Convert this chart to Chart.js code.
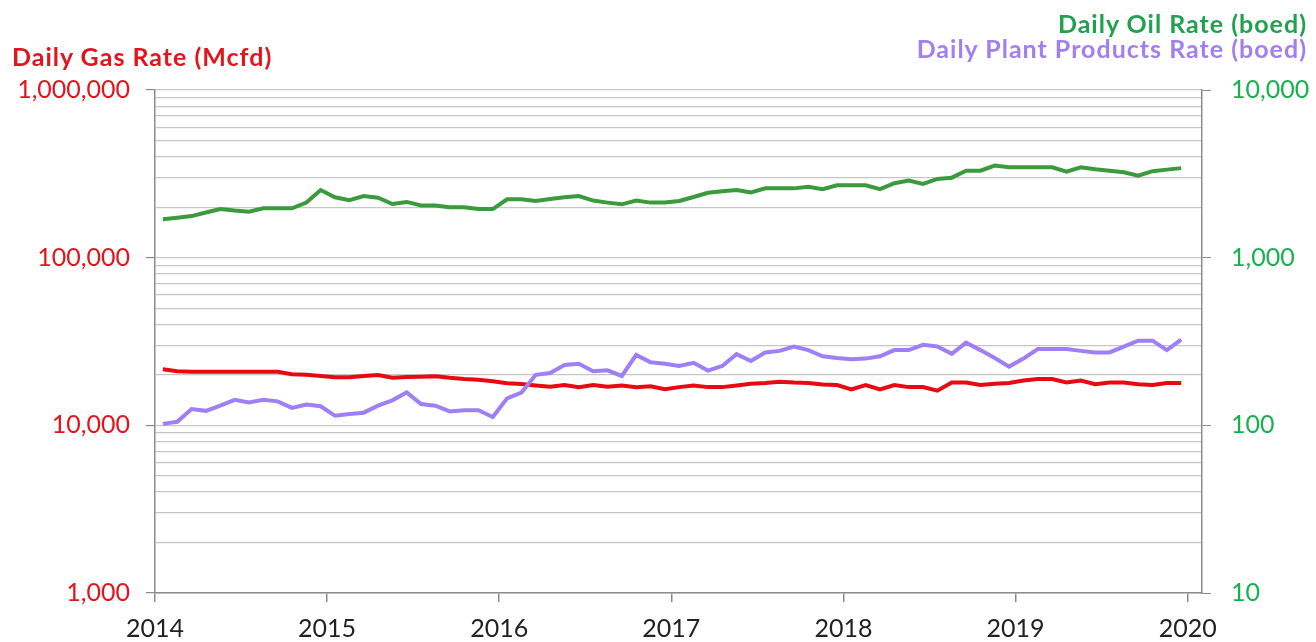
<!DOCTYPE html>
<html><head><meta charset="utf-8">
<script src="https://cdn.jsdelivr.net/npm/chart.js@4.4.1/dist/chart.umd.min.js"></script>
<style>
html,body{margin:0;padding:0;background:#fff;}
#wrap{position:relative;width:1316px;height:642px;overflow:hidden;}
canvas{position:absolute;left:0;top:0;}
.t{position:absolute;font-family:Lato,sans-serif;font-weight:bold;font-size:25px;letter-spacing:1px;line-height:28px;white-space:nowrap;}
</style></head><body>
<div id="wrap">
<canvas id="c" width="1316" height="642"></canvas>
<div class="t" style="left:12px;top:42px;color:#e3141c">Daily Gas Rate (Mcfd)</div>
<div class="t" style="right:9px;top:9px;color:#21a04f">Daily Oil Rate (boed)</div>
<div class="t" style="right:9px;top:34px;color:#a27ff0">Daily Plant Products Rate (boed)</div>
</div>
<script>
const months = [
'2014-01','2014-02','2014-03','2014-04','2014-05','2014-06','2014-07','2014-08','2014-09','2014-10','2014-11','2014-12',
'2015-01','2015-02','2015-03','2015-04','2015-05','2015-06','2015-07','2015-08','2015-09','2015-10','2015-11','2015-12',
'2016-01','2016-02','2016-03','2016-04','2016-05','2016-06','2016-07','2016-08','2016-09','2016-10','2016-11','2016-12',
'2017-01','2017-02','2017-03','2017-04','2017-05','2017-06','2017-07','2017-08','2017-09','2017-10','2017-11','2017-12',
'2018-01','2018-02','2018-03','2018-04','2018-05','2018-06','2018-07','2018-08','2018-09','2018-10','2018-11','2018-12',
'2019-01','2019-02','2019-03','2019-04','2019-05','2019-06','2019-07','2019-08','2019-09','2019-10','2019-11','2019-12'];

const gasRate = [
21600,21000,20900,20900,20900,20900,20900,20900,20900,20200,20000,19700,
19350,19350,19700,19950,19250,19400,19500,19600,19200,18900,18700,18300,
17800,17650,17300,17000,17400,16900,17400,17000,17300,16900,17100,16400,
16900,17300,16900,16900,17300,17700,17900,18200,18000,17900,17500,17400,
16400,17400,16400,17400,16900,16900,16100,18000,18000,17400,17700,17900,
18500,18900,18900,18000,18500,17600,18000,18000,17600,17400,17900,17900];

const oilRate = [
1695,1730,1770,1860,1950,1910,1880,1970,1970,1970,2130,2530,
2290,2200,2330,2280,2090,2150,2050,2050,2000,2000,1950,1950,
2230,2230,2180,2240,2290,2330,2190,2130,2080,2190,2130,2130,
2180,2300,2440,2490,2530,2450,2590,2590,2590,2650,2560,2700,
2700,2700,2560,2780,2880,2750,2950,3000,3300,3300,3540,3460,
3460,3460,3460,3260,3460,3370,3300,3230,3080,3280,3350,3420];

const plantRate = [
102,105,125,122,131,142,137,142,139,127,133,130,
114,117,119,131,141,157,134,131,121,123,123,112,
145,157,200,205,229,233,210,213,197,263,238,233,
226,236,212,226,266,242,272,278,295,281,258,252,
248,250,258,281,281,302,295,267,311,281,252,224,
250,285,285,285,278,272,272,295,320,320,281,324];

const yearLabels = ['2014','2015','2016','2017','2018','2019','2020'];
const gasDecades = [1000, 10000, 100000, 1000000];
const boeDecades = [10, 100, 1000, 10000];

const xPos = months.map(m => { const [y, mo] = m.split('-').map(Number); return (y - 2014) * 12 + (mo - 1) + 0.55; });
const toPts = arr => arr.map((v, i) => ({ x: xPos[i], y: v }));
const yearTickVals = yearLabels.map((y, i) => i * 12);

function logTicks(decades) {
  const t = [];
  for (let k = 0; k < decades.length - 1; k++)
    for (let m = 1; m < 10; m++) t.push({ value: decades[k] * m });
  t.push({ value: decades[decades.length - 1] });
  return t;
}
const fmt = v => Number(v).toLocaleString('en-US');

new Chart(document.getElementById('c'), {
  type: 'line',
  data: {
    datasets: [
      { label: 'Daily Plant Products Rate (boed)', data: toPts(plantRate), yAxisID: 'yR', borderColor: '#9f7ff5', borderWidth: 4, pointRadius: 0, tension: 0, order: 1 },
      { label: 'Daily Gas Rate (Mcfd)', data: toPts(gasRate), yAxisID: 'yL', borderColor: '#e80a12', borderWidth: 4, pointRadius: 0, tension: 0, order: 2 },
      { label: 'Daily Oil Rate (boed)', data: toPts(oilRate), yAxisID: 'yR', borderColor: '#3b9a3b', borderWidth: 4, pointRadius: 0, tension: 0, order: 3 }
    ]
  },
  options: {
    responsive: false,
    animation: false,
    layout: { padding: { top: 90, left: 0, right: 0, bottom: 0 } },
    plugins: { legend: { display: false }, tooltip: { enabled: false } },
    scales: {
      x: {
        type: 'linear', min: 0, max: 73,
        afterBuildTicks: s => { s.ticks = yearTickVals.map(v => ({ value: v })); },
        afterFit: s => { s.height = 49; },
        ticks: { autoSkip: false, maxRotation: 0, padding: 12, color: '#222', font: { family: 'Lato', size: 25 },
          callback: v => { const i = yearTickVals.indexOf(v); return i >= 0 ? yearLabels[i] : ''; } },
        grid: { drawOnChartArea: false, drawTicks: true, tickLength: 9, tickColor: '#8c8c8c', lineWidth: 1.5 },
        border: { color: '#8c8c8c', width: 1.5 }
      },
      yL: {
        type: 'logarithmic', position: 'left', min: 1000, max: 1000000,
        afterBuildTicks: s => { s.ticks = logTicks(gasDecades); },
        afterFit: s => { s.width = 155; },
        ticks: { autoSkip: false, padding: 16, color: '#e3141c', font: { family: 'Lato', size: 25 },
          callback: v => gasDecades.includes(v) ? fmt(v) : '' },
        grid: { color: '#c6c6c6', lineWidth: 1.2, tickLength: 9,
          tickColor: c => (c.tick && gasDecades.includes(c.tick.value)) ? '#8c8c8c' : 'rgba(0,0,0,0)' },
        border: { color: '#8c8c8c', width: 1.5 }
      },
      yR: {
        type: 'logarithmic', position: 'right', min: 10, max: 10000,
        afterBuildTicks: s => { s.ticks = logTicks(boeDecades); },
        afterFit: s => { s.width = 114; },
        ticks: { autoSkip: false, padding: 20, color: '#19b04f', font: { family: 'Lato', size: 25 },
          callback: v => boeDecades.includes(v) ? fmt(v) : '' },
        grid: { drawOnChartArea: false, tickLength: 9,
          tickColor: c => (c.tick && boeDecades.includes(c.tick.value)) ? '#8c8c8c' : 'rgba(0,0,0,0)' },
        border: { color: '#8c8c8c', width: 1.5 }
      }
    }
  }
});
</script>
</body></html>
